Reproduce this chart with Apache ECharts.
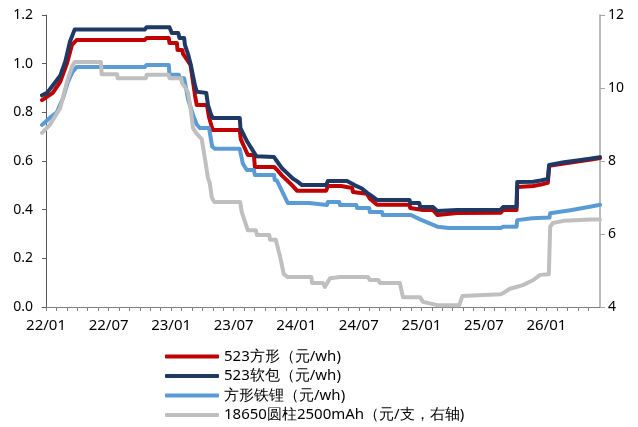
<!DOCTYPE html>
<html>
<head>
<meta charset="utf-8">
<script src="https://cdn.jsdelivr.net/npm/echarts@6/dist/echarts.min.js"></script>
<style>
html,body{margin:0;padding:0;background:#fff;}
#chart{width:638px;height:427px;}
</style>
</head>
<body>
<div id="chart"></div>
<script>
// ---- data: polyline vertices (date, value) ----
var seriesNames = ['523方形（元/wh)', '523软包（元/wh)', '方形铁锂（元/wh)', '18650圆柱2500mAh（元/支，右轴)'];
var leftTicks = [0, 0.2, 0.4, 0.6, 0.8, 1.0, 1.2];
var rightTicks = [4, 6, 8, 10, 12];
var xLabelDates = ['2022-01','2022-07','2023-01','2023-07','2024-01','2024-07','2025-01','2025-07','2026-01'];
var xStart = '2021-12-20';
var xEnd = '2026-06-05';

var red523 = [
 ['2021-12-20',0.85],['2022-01-21',0.88],['2022-02-11',0.925],['2022-03-01',1.0],['2022-03-16',1.077],
 ['2022-03-30',1.097],['2022-10-15',1.097],['2022-10-21',1.105],['2022-12-25',1.105],['2022-12-27',1.085],
 ['2023-01-18',1.085],['2023-01-20',1.056],['2023-02-03',1.056],['2023-02-05',1.04],['2023-02-25',0.995],
 ['2023-03-10',0.87],['2023-03-15',0.83],['2023-04-14',0.83],['2023-04-20',0.78],['2023-04-28',0.74],
 ['2023-05-01',0.727],['2023-07-19',0.727],['2023-07-22',0.69],['2023-08-08',0.637],['2023-08-12',0.625],
 ['2023-08-30',0.625],['2023-09-02',0.575],['2023-10-28',0.575],['2023-10-30',0.57],['2023-11-05',0.565],
 ['2023-11-20',0.54],['2023-12-05',0.52],['2023-12-20',0.50],['2024-01-03',0.478],['2024-03-28',0.478],
 ['2024-04-02',0.497],['2024-05-10',0.497],['2024-05-13',0.489],['2024-06-12',0.489],['2024-06-14',0.473],
 ['2024-07-25',0.465],['2024-08-03',0.445],['2024-08-24',0.42],['2024-11-27',0.42],['2024-11-29',0.407],
 ['2025-01-06',0.399],['2025-02-04',0.399],['2025-02-16',0.378],['2025-04-14',0.386],['2025-08-20',0.387],
 ['2025-08-27',0.399],['2025-10-05',0.399],['2025-10-07',0.493],['2025-11-23',0.497],['2025-12-15',0.503],
 ['2026-01-05',0.51],['2026-01-09',0.58],['2026-02-20',0.59],['2026-04-10',0.60],['2026-05-10',0.606],
 ['2026-06-05',0.612]
];
var navy523 = [
 ['2021-12-20',0.87],['2022-01-04',0.88],['2022-01-21',0.91],['2022-02-11',0.95],['2022-02-25',1.01],
 ['2022-03-10',1.09],['2022-03-24',1.14],['2022-10-15',1.14],['2022-10-21',1.15],['2022-12-27',1.15],
 ['2023-01-03',1.126],['2023-01-22',1.126],['2023-01-26',1.105],['2023-02-08',1.105],['2023-02-10',1.077],
 ['2023-02-19',1.036],['2023-02-25',1.0],['2023-03-04',0.95],['2023-03-10',0.91],['2023-03-15',0.885],
 ['2023-04-12',0.88],['2023-04-17',0.83],['2023-04-26',0.79],['2023-05-01',0.777],['2023-07-19',0.777],
 ['2023-07-21',0.735],['2023-08-10',0.68],['2023-08-14',0.674],['2023-09-06',0.62],['2023-09-08',0.616],
 ['2023-10-28',0.616],['2023-11-05',0.60],['2023-11-20',0.57],['2023-12-05',0.55],['2023-12-20',0.53],
 ['2024-01-05',0.515],['2024-01-18',0.501],['2024-03-28',0.501],['2024-04-02',0.518],['2024-05-28',0.518],
 ['2024-06-20',0.50],['2024-07-10',0.487],['2024-07-25',0.47],['2024-08-10',0.455],['2024-08-24',0.44],
 ['2024-11-27',0.44],['2024-11-29',0.427],['2024-12-26',0.427],['2024-12-28',0.411],['2025-02-04',0.411],
 ['2025-02-16',0.395],['2025-04-14',0.399],['2025-08-20',0.40],['2025-08-27',0.411],['2025-10-05',0.411],
 ['2025-10-07',0.514],['2025-11-23',0.515],['2025-12-15',0.52],['2026-01-05',0.526],['2026-01-09',0.584],
 ['2026-02-20',0.595],['2026-04-10',0.604],['2026-05-10',0.61],['2026-06-05',0.616]
];
var blueLfp = [
 ['2021-12-20',0.748],['2022-01-12',0.777],['2022-02-02',0.80],['2022-02-19',0.86],['2022-03-04',0.925],
 ['2022-03-18',0.966],['2022-03-30',0.986],['2022-10-15',0.986],['2022-10-21',0.995],['2022-12-25',0.995],
 ['2022-12-27',0.954],['2023-01-24',0.954],['2023-01-26',0.94],['2023-02-08',0.94],['2023-02-19',0.85],
 ['2023-03-04',0.79],['2023-03-15',0.75],['2023-03-24',0.736],['2023-04-20',0.736],['2023-04-29',0.66],
 ['2023-05-07',0.65],['2023-07-19',0.65],['2023-07-28',0.59],['2023-08-09',0.563],['2023-08-30',0.563],
 ['2023-09-02',0.542],['2023-10-28',0.542],['2023-10-30',0.522],['2023-11-05',0.52],['2023-12-07',0.427],
 ['2024-02-08',0.427],['2024-02-10',0.419],['2024-03-30',0.419],['2024-04-02',0.431],['2024-05-05',0.431],
 ['2024-05-07',0.419],['2024-06-24',0.419],['2024-06-26',0.407],['2024-08-01',0.407],['2024-08-03',0.39],
 ['2024-09-08',0.39],['2024-09-10',0.378],['2024-12-01',0.378],['2024-12-28',0.36],['2025-02-16',0.33],
 ['2025-03-20',0.325],['2025-08-20',0.325],['2025-08-27',0.33],['2025-10-05',0.33],['2025-10-07',0.357],
 ['2025-11-20',0.365],['2026-01-10',0.368],['2026-01-12',0.385],['2026-03-10',0.398],['2026-05-10',0.413],
 ['2026-06-05',0.42]
];
var gray18650 = [
 ['2021-12-20',8.77],['2022-01-12',8.99],['2022-02-11',9.45],['2022-03-01',10.16],['2022-03-16',10.58],
 ['2022-03-24',10.71],['2022-06-09',10.71],['2022-06-11',10.38],['2022-07-26',10.38],['2022-07-28',10.27],
 ['2022-10-19',10.27],['2022-10-21',10.36],['2022-12-25',10.36],['2022-12-27',10.27],['2023-01-31',10.27],
 ['2023-02-02',10.14],['2023-02-12',10.0],['2023-02-19',9.85],['2023-02-25',9.45],['2023-03-04',8.9],
 ['2023-03-15',8.75],['2023-03-30',8.6],['2023-04-08',8.08],['2023-04-17',7.53],['2023-04-22',7.4],
 ['2023-04-28',7.0],['2023-05-05',6.88],['2023-07-20',6.88],['2023-07-25',6.6],['2023-08-05',6.3],
 ['2023-08-12',6.1],['2023-09-05',6.1],['2023-09-08',5.97],['2023-10-14',5.97],['2023-10-16',5.84],
 ['2023-11-02',5.84],['2023-11-14',5.4],['2023-11-25',4.9],['2023-12-07',4.82],['2024-02-14',4.82],
 ['2024-02-16',4.66],['2024-03-18',4.66],['2024-03-24',4.55],['2024-04-08',4.79],['2024-05-07',4.82],
 ['2024-07-28',4.82],['2024-08-03',4.74],['2024-08-28',4.74],['2024-09-02',4.66],['2024-10-30',4.66],
 ['2024-11-08',4.27],['2024-12-28',4.27],['2025-01-06',4.14],['2025-02-16',4.05],['2025-04-20',4.05],
 ['2025-04-29',4.3],['2025-08-20',4.35],['2025-08-27',4.38],['2025-09-16',4.5],['2025-10-24',4.6],
 ['2025-11-23',4.74],['2025-12-13',4.88],['2026-01-08',4.9],['2026-01-12',6.2],['2026-01-20',6.3],
 ['2026-02-19',6.36],['2026-05-07',6.4],['2026-06-05',6.4]
];
var colors = ['#C00000', '#1F3864', '#5B9BD5', '#BFBFBF'];

// ---- helpers ----
function toM(s) {
  var p = s.split('-');
  var y = +p[0], mo = +p[1], d = p.length > 2 ? +p[2] : 1;
  var dim = new Date(y, mo, 0).getDate();
  return (y - 2022) * 12 + (mo - 1) + (d - 1) / dim;
}
function conv(arr) { return arr.map(function (r) { return [toM(r[0]), r[1]]; }); }
var monthTicks = [];
for (var i = 0; i <= 52; i++) monthTicks.push(i);
var labelVals = xLabelDates.map(toM);
function fmtX(v) {
  var m = Math.round(v);
  var y = 22 + Math.floor(m / 12);
  var mo = (m % 12) + 1;
  return y + '/' + (mo < 10 ? '0' + mo : mo);
}

var FONT = 'Noto Sans';
var chart = echarts.init(document.getElementById('chart'), null, {renderer: 'canvas'});
var datasets = [red523, navy523, blueLfp, gray18650];
var series = datasets.map(function (d, i) {
  return {
    name: seriesNames[i],
    type: 'line',
    yAxisIndex: i === 3 ? 1 : 0,
    data: conv(d),
    showSymbol: false,
    symbol: 'none',
    lineStyle: {color: colors[i], width: 4, join: 'round', cap: 'round'},
    itemStyle: {color: colors[i]},
    animation: false,
    z: 2 + i
  };
});

chart.setOption({
  animation: false,
  color: colors,
  grid: {left: 42, right: 38, top: 15, bottom: 120, containLabel: false},
  legend: {
    orient: 'vertical',
    left: 165,
    top: 349,
    padding: 0,
    height: 78,
    icon: 'roundRect',
    itemWidth: 54,
    itemHeight: 4,
    itemGap: 4.5,
    textStyle: {fontFamily: FONT, fontSize: 15, color: '#000', lineHeight: 15},
    data: seriesNames
  },
  xAxis: {
    type: 'value',
    min: toM(xStart),
    max: toM(xEnd),
    splitLine: {show: false},
    axisLine: {show: true, onZero: false, lineStyle: {color: '#808080', width: 1}},
    axisTick: {show: true, customValues: monthTicks, length: 4, inside: false, lineStyle: {color: '#808080'}},
    axisLabel: {customValues: labelVals, formatter: fmtX, fontFamily: FONT, fontSize: 15, color: '#000', margin: 11}
  },
  yAxis: [
    {
      type: 'value', min: 0, max: 1.2, interval: 0.2, position: 'left',
      splitLine: {show: false},
      axisLine: {show: true, lineStyle: {color: '#595959'}},
      axisTick: {show: true, length: 4, lineStyle: {color: '#595959'}},
      axisLabel: {formatter: function (v) { return v.toFixed(1); }, fontFamily: FONT, fontSize: 14, color: '#000', margin: 9}
    },
    {
      type: 'value', min: 4, max: 12, interval: 2, position: 'right',
      splitLine: {show: false},
      axisLine: {show: true, lineStyle: {color: '#A6A6A6', width: 1.5}},
      axisTick: {show: true, length: 5, lineStyle: {color: '#A6A6A6'}},
      axisLabel: {fontFamily: FONT, fontSize: 14, color: '#000', margin: 8}
    }
  ],
  series: series
});
</script>
</body>
</html>
